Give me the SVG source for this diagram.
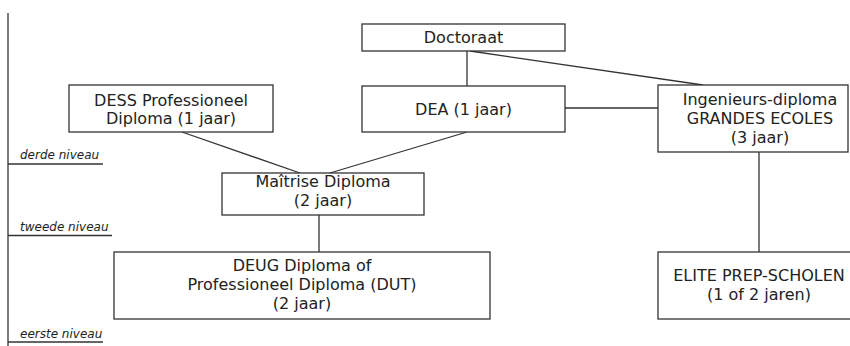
<svg xmlns="http://www.w3.org/2000/svg" width="850" height="346" viewBox="0 0 850 346">
<style>
  .box { fill: #fff; stroke: #333; stroke-width: 1.3; }
  .ln { stroke: #333; stroke-width: 1.3; fill: none; }
  .t { font-family: "DejaVu Sans", "Liberation Sans", sans-serif; font-size: 16px; fill: #222; text-anchor: middle; }
  .lvl { font-family: "DejaVu Sans", "Liberation Sans", sans-serif; font-size: 12px; font-style: italic; fill: #222; }
</style>
<rect width="850" height="346" fill="#fff"/>
<g id="axis">
  <line class="ln" x1="8" y1="13" x2="8" y2="346"/>
  <line class="ln" x1="8" y1="164" x2="103" y2="164"/>
  <line class="ln" x1="8" y1="235.5" x2="112" y2="235.5"/>
  <line class="ln" x1="8" y1="342" x2="103" y2="342"/>
  <text class="lvl" x="20" y="159">derde niveau</text>
  <text class="lvl" x="20" y="231">tweede niveau</text>
  <text class="lvl" x="20" y="338">eerste niveau</text>
</g>
<g id="connectors">
  <line class="ln" x1="467" y1="51" x2="467" y2="86"/>
  <line class="ln" x1="470" y1="51" x2="703" y2="85"/>
  <line class="ln" x1="565" y1="108" x2="658" y2="108"/>
  <line class="ln" x1="759" y1="152" x2="759" y2="252"/>
  <line class="ln" x1="182" y1="132" x2="300" y2="173"/>
  <line class="ln" x1="467" y1="132" x2="330" y2="173"/>
  <line class="ln" x1="319" y1="215" x2="319" y2="252"/>
</g>
<g id="doctoraat">
  <rect class="box" x="362" y="24" width="203" height="27"/>
  <text class="t" x="463.5" y="43">Doctoraat</text>
</g>
<g id="dea">
  <rect class="box" x="362" y="86" width="203" height="46"/>
  <text class="t" x="463.5" y="114.5">DEA (1 jaar)</text>
</g>
<g id="dess">
  <rect class="box" x="69" y="85" width="204" height="47"/>
  <text class="t" x="171" y="106">DESS Professioneel</text>
  <text class="t" x="171" y="124">Diploma (1 jaar)</text>
</g>
<g id="ingenieurs">
  <rect class="box" x="658" y="85" width="190" height="67"/>
  <text class="t" x="760" y="105">Ingenieurs-diploma</text>
  <text class="t" x="760" y="124">GRANDES ECOLES</text>
  <text class="t" x="760" y="143">(3 jaar)</text>
</g>
<g id="maitrise">
  <rect class="box" x="222" y="173" width="202" height="42"/>
  <text class="t" x="323" y="187">Maîtrise Diploma</text>
  <text class="t" x="323" y="206">(2 jaar)</text>
</g>
<g id="deug">
  <rect class="box" x="114" y="252" width="376" height="67"/>
  <text class="t" x="302" y="271">DEUG Diploma of</text>
  <text class="t" x="302" y="290">Professioneel Diploma (DUT)</text>
  <text class="t" x="302" y="309">(2 jaar)</text>
</g>
<g id="elite">
  <rect class="box" x="658" y="252" width="210" height="67"/>
  <text class="t" x="759" y="281">ELITE PREP-SCHOLEN</text>
  <text class="t" x="759" y="300">(1 of 2 jaren)</text>
</g>
</svg>
